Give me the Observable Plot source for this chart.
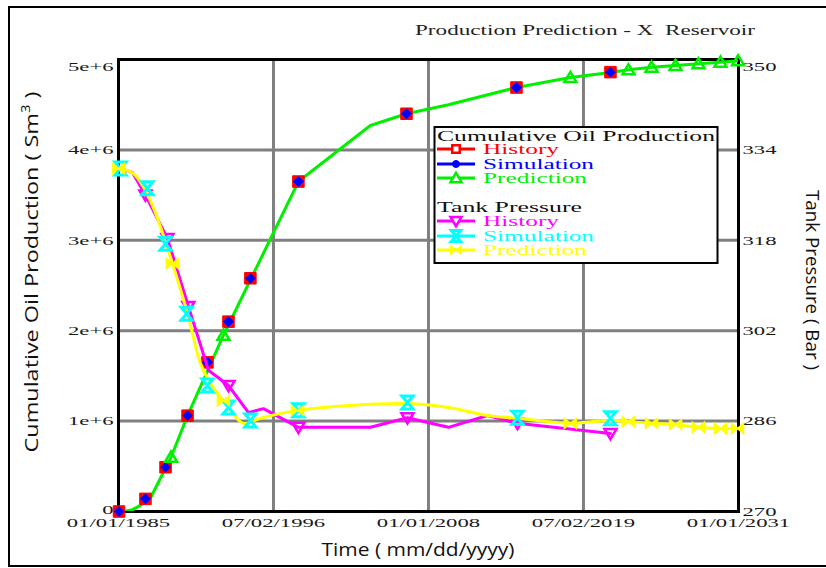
<!DOCTYPE html>
<html><head><meta charset="utf-8">
<script src="https://cdn.jsdelivr.net/npm/d3@7"></script>
<script src="https://cdn.jsdelivr.net/npm/@observablehq/plot@0.6"></script>
<style>
body{margin:0;background:#fff;}
#chart{width:826px;height:568px;overflow:hidden;}
</style></head><body><div id="chart"></div>
<script>
// ---------- data ----------
const xTickDates = ["1985-01-01","1996-07-02","2008-01-01","2019-07-02","2031-01-01"];
const leftTicks = [0,1e6,2e6,3e6,4e6,5e6];
const rightTicks = [270,286,302,318,334,350];

// Cumulative oil production (Sm3)
const oilDates = ["1985-01-15","1987-01-01","1988-06-28","1990-02-15","1991-08-08","1993-02-28","1994-10-15","1998-05-08","2006-05-15","2014-07-12","2021-07-02"];
const oilHist  = [0,0.14e6,0.49e6,1.06e6,1.65e6,2.10e6,2.58e6,3.65e6,4.40e6,4.69e6,4.86e6];
const oilSim   = [0,0.14e6,0.49e6,1.06e6,1.65e6,2.10e6,2.58e6,3.65e6,4.40e6,4.69e6,4.86e6];
const oilPredDates = ["1985-05-01","1986-01-15","1986-09-01","1987-06-01","1988-11-25","1990-02-15","1992-10-15","1998-05-08","2003-09-10","2006-05-15","2009-06-25","2014-07-12","2018-07-12","2021-07-02","2022-11-02","2024-07-20","2026-05-01","2028-01-12","2029-08-30","2030-12-20"];
const oilPred  = [0,0.02e6,0.07e6,0.16e6,0.60e6,1.06e6,1.95e6,3.65e6,4.27e6,4.40e6,4.50e6,4.69e6,4.80e6,4.856e6,4.886e6,4.915e6,4.934e6,4.952e6,4.970e6,4.985e6];
const oilPredMark = [0,0,0,0,1,0,1,0,0,0,0,0,1,0,1,1,1,1,1,1];

// Tank pressure (Bar)
const presHistDates = ["1985-02-25","1986-01-15","1987-01-01","1988-08-20","1990-03-10","1991-09-05","1993-02-28","1994-08-25","1995-10-05","1998-05-08","2003-09-10","2006-06-10","2009-06-25","2012-05-20","2014-08-08","2021-07-02"];
const presHist = [330.7,330.0,326.0,318.3,306.3,295.0,292.3,287.5,288.2,284.9,284.9,286.6,284.9,287.0,285.6,283.8];
const presHistMark = [0,0,1,1,1,0,1,0,0,1,0,1,0,0,1,1];
const presSimDates = ["1985-02-25","1987-02-25","1988-06-28","1990-01-20","1991-08-08","1993-02-28","1994-10-15","1998-05-08","2006-06-10","2014-08-08","2021-07-02"];
const presSim = [330.7,327.2,317.4,305.0,292.3,288.4,286.1,287.9,289.3,286.6,286.5];
const presPredDates = ["1985-01-01","1986-02-10","1987-05-15","1989-01-01","1990-02-15","1991-02-01","1991-10-30","1992-10-15","1994-04-08","1995-07-12","1998-04-12","2006-02-25","2009-06-25","2012-05-20","2014-08-08","2017-07-27","2018-07-12","2021-07-02","2022-11-02","2024-07-20","2026-05-01","2028-01-12","2029-08-30","2030-12-05"];
const presPred = [330.7,329.8,325.0,313.9,305.0,296.2,292.7,289.6,285.6,286.5,287.9,289.1,288.4,287.0,286.5,285.75,285.6,286.1,285.9,285.6,285.4,284.9,284.7,284.7];
const presPredMark = [1,0,0,1,0,0,0,1,0,0,1,0,0,0,0,0,1,0,1,1,1,1,1,1];

// ---------- helpers ----------
const parse = d3.utcParse("%Y-%m-%d");
const pMin = 270, pMax = 350, yMax = 5e6;
const toY = p => (p - pMin) / (pMax - pMin) * yMax;   // right axis -> left scale

const oilRows = oilDates.map((d,i)=>({date:parse(d), hist:oilHist[i], sim:oilSim[i]}));
const oilPredRows = oilPredDates.map((d,i)=>({date:parse(d), v:oilPred[i], m:oilPredMark[i]}));
const phRows = presHistDates.map((d,i)=>({date:parse(d), v:toY(presHist[i]), m:presHistMark[i]}));
const psRows = presSimDates.map((d,i)=>({date:parse(d), v:toY(presSim[i])}));
const ppRows = presPredDates.map((d,i)=>({date:parse(d), v:toY(presPred[i]), m:presPredMark[i]}));

// custom symbols
const rOf = s => Math.sqrt(s/Math.PI);
const triDown = {draw(c,s){const r=rOf(s); c.moveTo(-r,-0.75*r); c.lineTo(r,-0.75*r); c.lineTo(0,0.95*r); c.closePath();}};
const triUp = {draw(c,s){const r=rOf(s); c.moveTo(-r,0.75*r); c.lineTo(r,0.75*r); c.lineTo(0,-0.95*r); c.closePath();}};
const hourglass = {draw(c,s){const r=rOf(s); const w=r*0.85; c.moveTo(-w,-r); c.lineTo(w,-r); c.lineTo(-w,r); c.lineTo(w,r); c.closePath();}};
const bowtie = {draw(c,s){const r=rOf(s); const h=r*0.85; c.moveTo(-r,-h); c.lineTo(r,h); c.lineTo(r,-h); c.lineTo(-r,h); c.closePath();}};

const RED="#ff0000", BLUE="#0000ff", GREEN="#00f000", MAG="#ff00ff", CYAN="#00ffff", YEL="#ffff00";
const GRID = {stroke:"#808080", strokeOpacity:1, strokeWidth:3};

const chart = Plot.plot({
  width: 826, height: 568,
  marginLeft: 118, marginRight: 88, marginTop: 59, marginBottom: 57,
  style: {fontFamily: "'Liberation Serif', serif", fontSize: "13.5px", color: "#1a1a1a", background: "transparent", overflow: "visible"},
  x: {type: "utc", domain: [parse(xTickDates[0]), parse(xTickDates[xTickDates.length-1])]},
  y: {domain: [0, yMax]},
  marks: [
    Plot.gridX(xTickDates.slice(1,-1).map(parse), GRID),
    Plot.gridY(leftTicks.slice(1,-1), GRID),
    Plot.axisX(xTickDates.map(parse), {tickSize: 0, tickPadding: 6, tickFormat: d3.utcFormat("%m/%d/%Y"), label: null}),
    Plot.axisY(leftTicks, {anchor: "left", tickSize: 0, tickPadding: 5, tickFormat: d => d === 0 ? "0" : (d/1e6) + "e+6", label: null}),
    Plot.axisY(rightTicks.map(toY), {anchor: "right", tickSize: 0, tickPadding: 4, tickFormat: v => String(Math.round(pMin + v/yMax*(pMax-pMin))), label: null}),
    Plot.frame({stroke: "#000", strokeWidth: 3}),
    // cumulative oil
    Plot.line(oilPredRows, {x: "date", y: "v", stroke: GREEN, strokeWidth: 3, clip: true}),
    Plot.dot(oilRows, {x: "date", y: "hist", symbol: "square", r: 6.5, fill: RED, stroke: RED, strokeWidth: 1}),
    Plot.dot(oilRows, {x: "date", y: "sim", symbol: "diamond2", r: 4.4, fill: BLUE, stroke: BLUE, strokeWidth: 1}),
    Plot.dot(oilPredRows, {filter: d => d.m, x: "date", y: "v", symbol: triUp, r: 6, fill: "none", stroke: GREEN, strokeWidth: 2.5}),
    // tank pressure
    Plot.line(phRows, {x: "date", y: "v", stroke: MAG, strokeWidth: 3}),
    Plot.dot(phRows, {filter: d => d.m, x: "date", y: "v", symbol: triDown, r: 6, fill: "none", stroke: MAG, strokeWidth: 2.5}),
    Plot.line(ppRows, {x: "date", y: "v", stroke: YEL, strokeWidth: 3, curve: "catmull-rom"}),
    Plot.dot(psRows, {x: "date", y: "v", symbol: hourglass, r: 6.5, fill: "none", stroke: CYAN, strokeWidth: 3}),
    Plot.dot(ppRows, {filter: d => d.m, x: "date", y: "v", symbol: bowtie, r: 6, fill: YEL, stroke: YEL, strokeWidth: 1.5})
  ]
});

document.getElementById("chart").appendChild(chart);
const svg = d3.select(chart);

// stretch serif tick labels (reference glyphs are wide); nudge end labels like the reference
svg.selectAll("g[aria-label$='tick label'] text").each(function(){
  const L = this.getComputedTextLength();
  this.setAttribute("textLength", (L*1.68).toFixed(1));
  this.setAttribute("lengthAdjust", "spacingAndGlyphs");
  const t = this.textContent;
  if (t === "5e+6" || t === "350") {
    this.setAttribute("transform", (this.getAttribute("transform") || "") + " translate(0,7)");
  }
  if (t === "0") {
    this.setAttribute("transform", (this.getAttribute("transform") || "") + " translate(0,-2)");
  }
});

// outer border
svg.append("rect").attr("x", 9).attr("y", 7).attr("width", 840).attr("height", 559)
  .attr("fill", "none").attr("stroke", "#000").attr("stroke-width", 2);

// title
svg.append("text").attr("x", 415).attr("y", 35).attr("text-anchor", "start").style("white-space", "pre")
  .attr("font-family", "'Liberation Serif', serif").attr("font-size", 15).attr("fill", "#222")
  .attr("textLength", 340).attr("lengthAdjust", "spacingAndGlyphs")
  .text("Production Prediction - X  Reservoir");

// axis titles
const sans = "'Open Sans', sans-serif";
const lt = svg.append("text").attr("transform", "translate(38,272) rotate(-90)")
  .attr("text-anchor", "middle").attr("font-family", sans).attr("font-size", 19).attr("fill", "#111")
  .attr("textLength", 361).attr("lengthAdjust", "spacingAndGlyphs");
lt.append("tspan").text("Cumulative Oil Production ( Sm");
lt.append("tspan").attr("dy", -8).attr("font-size", 12).text("3");
lt.append("tspan").attr("dy", 8).text(" )");

svg.append("text").attr("transform", "translate(806,280) rotate(90)")
  .attr("text-anchor", "middle").attr("font-family", sans).attr("font-size", 19).attr("fill", "#111")
  .attr("textLength", 180).attr("lengthAdjust", "spacingAndGlyphs")
  .text("Tank Pressure ( Bar )");

svg.append("text").attr("x", 418).attr("y", 556)
  .attr("text-anchor", "middle").attr("font-family", sans).attr("font-size", 19).attr("fill", "#111")
  .attr("textLength", 193).attr("lengthAdjust", "spacingAndGlyphs")
  .text("Time ( mm/dd/yyyy)");

// legend
const lg = svg.append("g").attr("font-family", "'Liberation Serif', serif").attr("font-size", 15).attr("text-anchor", "start");
lg.append("rect").attr("x", 434.5).attr("y", 127).attr("width", 283).attr("height", 136)
  .attr("fill", "#fff").attr("stroke", "#000").attr("stroke-width", 2);
const headers = [{t:"Cumulative Oil Production", y:141, w:278}, {t:"Tank Pressure", y:212, w:145}];
headers.forEach(h => lg.append("text").attr("x", 437).attr("y", h.y).attr("fill", "#111").attr("text-anchor", "start")
  .attr("textLength", h.w).attr("lengthAdjust", "spacingAndGlyphs").text(h.t));
const sym = (type, r) => d3.symbol(type, r*r*Math.PI)();
const entries = [
  {t:"History", y:154, w:76, c:RED, draw: g => { g.append("path").attr("d", sym(d3.symbolSquare, 4.2)).attr("fill","#fff").attr("stroke",RED).attr("stroke-width",2.5); }},
  {t:"Simulation", y:169, w:111, c:BLUE, draw: g => { g.append("path").attr("d", sym(d3.symbolCircle, 3.5)).attr("fill",BLUE).attr("stroke",BLUE); }},
  {t:"Prediction", y:183, w:104, c:GREEN, draw: g => { g.append("path").attr("d", sym(triUp, 5.5)).attr("fill","#fff").attr("stroke",GREEN).attr("stroke-width",2.5); }},
  {t:"History", y:226, w:76, c:MAG, draw: g => { g.append("path").attr("d", sym(triDown, 5.5)).attr("fill","#fff").attr("stroke",MAG).attr("stroke-width",2.5); }},
  {t:"Simulation", y:241, w:111, c:CYAN, draw: g => { g.append("path").attr("d", sym(hourglass, 5.5)).attr("fill","none").attr("stroke",CYAN).attr("stroke-width",3); }},
  {t:"Prediction", y:255, w:104, c:YEL, draw: g => { g.append("path").attr("d", sym(bowtie, 5.5)).attr("fill",YEL).attr("stroke",YEL); }}
];
entries.forEach(e => {
  const cy = e.y - 5;
  lg.append("line").attr("x1", 437).attr("x2", 475).attr("y1", cy).attr("y2", cy).attr("stroke", e.c).attr("stroke-width", 3);
  const g = lg.append("g").attr("transform", `translate(456,${cy})`);
  e.draw(g);
  lg.append("text").attr("x", 483).attr("y", e.y).attr("fill", e.c).attr("text-anchor", "start")
    .attr("textLength", e.w).attr("lengthAdjust", "spacingAndGlyphs").text(e.t);
});
</script>
</body></html>
